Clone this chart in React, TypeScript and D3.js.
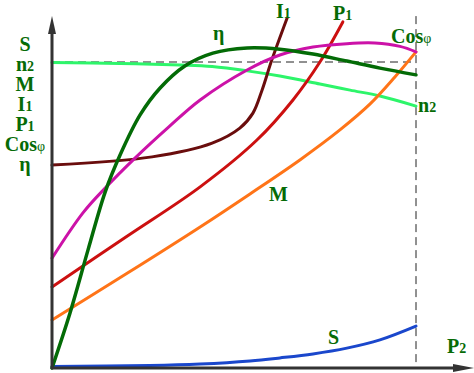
import React from 'react';
import * as d3 from 'd3';

// load share P2 (% of rated) vs. value (% of rated)
const n2Data: [number, number][] = [[0, 99.8], [18.7, 99.5], [35.2, 99.0], [44, 98.5], [53.6, 97.1], [62.6, 95.4], [73.6, 92.8], [81.9, 90.8], [90.1, 88.9], [100, 85.6]];
const etaData: [number, number][] = [[0, 0], [4.95, 18], [9.9, 38.6], [14.6, 57.5], [18.7, 69.6], [24.2, 82.7], [29.7, 91.5], [36.5, 98.7], [44.2, 102.9], [53.6, 104.6], [62.6, 104.2], [71.7, 102.6], [81, 100.3], [90.1, 98], [100, 95.8]];
const cosData: [number, number][] = [[0, 35.9], [8.5, 50.7], [14.6, 58.8], [22.8, 68.6], [32.1, 78.8], [40.7, 87.6], [53.6, 97.4], [62.6, 102.3], [71.7, 104.9], [81, 106.0], [88.7, 106.2], [95.6, 105.1], [100, 103.3]];
const i1Data: [number, number][] = [[0, 66.3], [27.5, 69.0], [44, 73.5], [51.6, 78.4], [55.2, 83.3], [57.7, 90.8], [60.4, 100.7], [64.6, 114.4]];
const p1Data: [number, number][] = [[0, 26.5], [20.3, 42.8], [40.7, 59.2], [56.3, 74.5], [66.2, 87.6], [73.6, 100], [79.9, 113.1]];
const mData: [number, number][] = [[0, 15.7], [20.3, 30.7], [40.7, 46.1], [54.4, 56.9], [68.1, 68.0], [79.1, 77.8], [87.4, 86.3], [94.2, 95.1], [100, 103.3]];
const sData: [number, number][] = [[0, 0.5], [26.9, 0.8], [40.7, 1.3], [54.4, 2.3], [62.6, 3.3], [71.7, 4.6], [81, 6.5], [90.1, 9.2], [100, 13.7]];

const axisLabels = [
  { main: 'S', sub: '' },
  { main: 'n', sub: '2' },
  { main: 'M', sub: '' },
  { main: 'I', sub: '1' },
  { main: 'P', sub: '1' },
  { main: 'Cos', sub: 'φ' },
  { main: 'η', sub: '' },
];

const W = 474;
const H = 373;
const green = '#066b06';
const font = '"Liberation Serif", "Times New Roman", serif';

const x = d3.scaleLinear().domain([0, 100]).range([52, 416]);
const y = d3.scaleLinear().domain([0, 100]).range([368, 62]);

const line = d3
  .line<[number, number]>()
  .x(d => x(d[0]))
  .y(d => y(d[1]))
  .curve(d3.curveCatmullRom.alpha(0.5));

const Label = ({ px, py, main, sub, anchor = 'start', subWeight = 'bold' }: any) => (
  <text x={px} y={py} textAnchor={anchor} fill={green} fontFamily={font} fontWeight="bold" fontSize={20}>
    {main}
    {sub && <tspan fontSize={14} fontWeight={subWeight}>{sub}</tspan>}
  </text>
);

export default function App() {
  const series = [
    { data: n2Data, color: '#2df56a', w: 3 },
    { data: sData, color: '#1a47cc', w: 3 },
    { data: mData, color: '#ff7418', w: 3 },
    { data: p1Data, color: '#cc1010', w: 3 },
    { data: i1Data, color: '#6a0d0d', w: 3 },
    { data: cosData, color: '#cc12a8', w: 3 },
    { data: etaData, color: '#036b06', w: 3.5 },
  ];
  const [x0, x1] = x.range();
  const y0 = y(0);
  return (
    <svg width={W} height={H} style={{ position: 'absolute', left: 0, top: 0, background: '#fff' }}>
      {/* reference lines at 100% */}
      <line x1={x0} x2={x1} y1={y(100)} y2={y(100)} stroke="#222" strokeWidth={1} strokeDasharray="8 5" />
      <line x1={x1} x2={x1} y1={y(115)} y2={y0} stroke="#222" strokeWidth={1} strokeDasharray="8 5" />

      {series.map((s, i) => (
        <path key={i} d={line(s.data) || ''} fill="none" stroke={s.color} strokeWidth={s.w} strokeLinecap="round" />
      ))}

      {/* axes */}
      <line x1={x0} x2={x0} y1={y0 + 1} y2={30} stroke="#333" strokeWidth={3} />
      <path d={`M${x0},16 L${x0 - 4},34 L${x0 + 4},34 Z`} fill="#333" />
      <line x1={x0 - 1} x2={458} y1={y0} y2={y0} stroke="#333" strokeWidth={3} />
      <path d={`M474,${y0} L453,${y0 - 4} L453,${y0 + 4} Z`} fill="#333" />

      {axisLabels.map((l, i) => (
        <Label key={l.main} px={25} py={51 + i * 20} main={l.main} sub={l.sub} anchor="middle" subWeight={l.sub === 'φ' ? 'normal' : 'bold'} />
      ))}

      <Label px={276} py={18} main="I" sub="1" />
      <Label px={333} py={20} main="P" sub="1" />
      <Label px={213} py={40} main="η" />
      <Label px={391} py={43} main="Cos" sub="φ" subWeight="normal" />
      <Label px={418} py={112} main="n" sub="2" />
      <Label px={269} py={201} main="M" />
      <Label px={328} py={344} main="S" />
      <Label px={447} py={353} main="P" sub="2" />
    </svg>
  );
}
